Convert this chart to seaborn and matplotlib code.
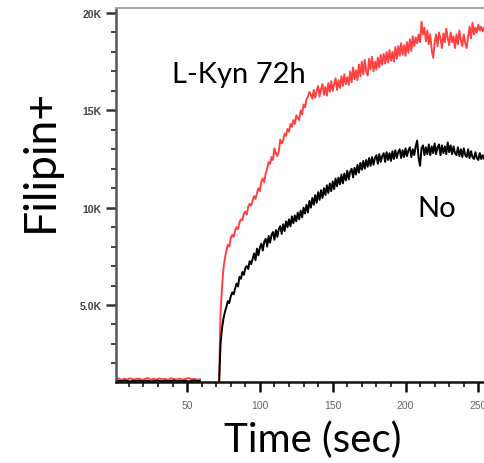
import numpy as np
import pandas as pd
import matplotlib
matplotlib.use("Agg")
import matplotlib.pyplot as plt
import seaborn as sns
from matplotlib.ticker import FixedLocator, MultipleLocator, FixedFormatter

sns.set_theme(style="ticks")
plt.rcParams["font.family"] = ["Lato", "DejaVu Sans"]

# --- data -----------------------------------------------------------------
series_names = ["L-Kyn 72h", "No"]
series_colors = ["#ff4242", "#000000"]

# baseline acquisition before the reagent is added
baseline_time = [1, 3, 5, 7, 9, 11, 13, 15, 17, 19, 21, 23, 25, 27, 29,
                 31, 33, 35, 37, 39, 41, 43, 45, 47, 49, 51, 53, 55, 57, 59]
baseline_lkyn = [1180, 1230, 1150, 1210, 1170, 1240, 1160, 1200, 1220, 1150,
                 1190, 1250, 1170, 1210, 1160, 1230, 1180, 1200, 1150, 1240,
                 1190, 1170, 1220, 1160, 1210, 1250, 1180, 1200, 1160, 1190]
baseline_no = [1090, 1110, 1080, 1120, 1100, 1070, 1110, 1090, 1120, 1080,
               1100, 1110, 1070, 1090, 1120, 1100, 1080, 1110, 1090, 1100,
               1120, 1080, 1100, 1090, 1110, 1070, 1100, 1120, 1090, 1100]

# kinetic acquisition after the reagent is added (seconds)
kinetic_time = [72, 72.5, 73, 74, 75,
                76, 77, 78, 79, 80, 81, 82, 83, 84, 85,
                86, 87, 88, 89, 90, 91, 92, 93, 94, 95,
                96, 97, 98, 99, 100, 101, 102, 103, 104, 105,
                106, 107, 108, 109, 110, 111, 112, 113, 114, 115,
                116, 117, 118, 119, 120, 121, 122, 123, 124, 125,
                126, 127, 128, 129, 130, 131, 132, 133, 134, 135,
                136, 137, 138, 139, 140, 141, 142, 143, 144, 145,
                146, 147, 148, 149, 150, 151, 152, 153, 154, 155,
                156, 157, 158, 159, 160, 161, 162, 163, 164, 165,
                166, 167, 168, 169, 170, 171, 172, 173, 174, 175,
                176, 177, 178, 179, 180, 181, 182, 183, 184, 185,
                186, 187, 188, 189, 190, 191, 192, 193, 194, 195,
                196, 197, 198, 199, 200, 201, 202, 203, 204, 205,
                206, 207, 208, 209, 210, 211, 212, 213, 214, 215,
                216, 217, 218, 219, 220, 221, 222, 223, 224, 225,
                226, 227, 228, 229, 230, 231, 232, 233, 234, 235,
                236, 237, 238, 239, 240, 241, 242, 243, 244, 245,
                246, 247, 248, 249, 250, 251, 252, 253, 254]
kinetic_lkyn = [1000, 3000, 4600, 5900, 6900,
                7400, 7800, 8100, 8000, 8450, 8600, 8500, 8850, 9000, 8900,
                9250, 9400, 9350, 9700, 9800, 9650, 10050, 10200, 10100, 10350,
                10600, 10450, 10750, 11000, 10850, 11350, 11500, 11300, 11750, 12000,
                12350, 12250, 12600, 12450, 13050, 12800, 12650, 12900, 13500, 13300,
                13450, 13800, 13700, 14050, 13900, 14300, 14150, 14500, 14300, 14750,
                14600, 14500, 15000, 14800, 15300, 15150, 15550, 15700, 15950, 15800,
                15600, 16050, 15650, 16000, 16250, 15700, 16100, 16350, 15800, 16200,
                15750, 16400, 15950, 16500, 16000, 16350, 16650, 16050, 16550, 16150,
                16750, 16250, 16850, 16350, 16700, 16300, 17000, 16450, 17200, 16600,
                17050, 16550, 17350, 16750, 17500, 16850, 17600, 17000, 16800, 17650,
                17100, 17750, 17000, 17500, 17100, 17700, 17200, 17850, 17350, 17900,
                17400, 18000, 17450, 18100, 17550, 18000, 17500, 18250, 17650, 18300,
                17800, 18450, 17850, 18350, 17800, 18500, 17950, 18650, 18050, 18800,
                18300, 18750, 18450, 18900, 18500, 19550, 18900, 19250, 18550, 19100,
                18400, 18900, 18100, 17700, 18500, 18900, 18300, 19000, 18700, 18200,
                18950, 18500, 19200, 18700, 18350, 19000, 18500, 18800, 18200, 18900,
                18400, 19100, 18600, 18300, 18900, 18450, 18200, 18800, 19300, 18700,
                19500, 18900, 19250, 19000, 19400, 19100, 19300, 19050, 19250]
kinetic_no = [1000, 2000, 3000, 3800, 4300,
              4650, 4900, 5200, 5100, 5450, 5650, 5550, 5850, 6100, 5950,
              6450, 6350, 6700, 6550, 6900, 7000, 6850, 7250, 7100, 7350,
              7650, 7300, 7900, 7550, 7950, 8150, 7800, 8250, 8400, 8000,
              8550, 8200, 8600, 8750, 8350, 8850, 8500, 8900, 9050, 8650,
              9150, 8800, 9300, 9000, 9400, 9050, 9550, 9200, 9600, 9300,
              9750, 9400, 9850, 9500, 10000, 9700, 10150, 9750, 10350, 10000,
              10500, 10150, 10650, 10250, 10800, 10400, 10900, 10500, 11000, 10650,
              11150, 10750, 11250, 10850, 11350, 10950, 11500, 11100, 11550, 11200,
              11700, 11250, 11750, 11400, 11900, 11450, 11850, 12000, 11550, 12050,
              11700, 12200, 11800, 12300, 11950, 12400, 12000, 12450, 12100, 12550,
              12150, 12600, 12200, 12550, 12700, 12250, 12750, 12350, 12650, 12800,
              12350, 12850, 12450, 12800, 12400, 12900, 12500, 12950, 12550, 12850,
              13000, 12550, 12950, 12600, 13050, 12650, 12950, 13100, 12600, 13000,
              12700, 13150, 13450, 12550, 12150, 13050, 13200, 12700, 13100, 12750,
              13250, 12700, 13150, 12800, 13300, 12750, 13100, 13250, 12700, 13200,
              12800, 13150, 12750, 13350, 12850, 13200, 12750, 13150, 12800, 12700,
              13100, 12650, 13000, 12600, 13050, 12700, 12600, 13000, 12550, 12900,
              12600, 12500, 12850, 12550, 12450, 12800, 12500, 12700, 12500]

y_ticks = [5000, 10000, 15000, 20000]
y_tick_labels = ["5.0K", "10K", "15K", "20K"]
x_ticks = [50, 100, 150, 200, 250]
x_tick_labels = ["50", "100", "150", "200", "250"]

# --- long-form table --------------------------------------------------------
frames = []
for name, base_vals, kin_vals in [("L-Kyn 72h", baseline_lkyn, kinetic_lkyn),
                                  ("No", baseline_no, kinetic_no)]:
    frames.append(pd.DataFrame({"time": baseline_time, "value": base_vals,
                                "series": name, "segment": "baseline"}))
    frames.append(pd.DataFrame({"time": kinetic_time, "value": kin_vals,
                                "series": name, "segment": "kinetic"}))
df = pd.concat(frames, ignore_index=True)

# --- figure -----------------------------------------------------------------
W, H = 484, 464
fig = plt.figure(figsize=(W / 100, H / 100), dpi=100)
fig.patch.set_facecolor("white")
ax = fig.add_axes([116 / W, 1 - 383 / H, 1 - 116 / W, (383 - 9) / H])

sns.lineplot(data=df, x="time", y="value", hue="series", units="segment",
             estimator=None, sort=False, hue_order=series_names,
             palette=dict(zip(series_names, series_colors)),
             linewidth=1.4, legend=False, ax=ax)

ax.set_xlim(1.2, 253.9)
ax.set_ylim(1045, 20257)

ax.xaxis.set_major_locator(FixedLocator(x_ticks))
ax.xaxis.set_major_formatter(FixedFormatter(x_tick_labels))
ax.xaxis.set_minor_locator(MultipleLocator(10))
ax.yaxis.set_major_locator(FixedLocator(y_ticks))
ax.yaxis.set_major_formatter(FixedFormatter(y_tick_labels))
ax.yaxis.set_minor_locator(MultipleLocator(1000))

ax.set_xlabel("")
ax.set_ylabel("")

ax.spines["right"].set_visible(False)
ax.spines["left"].set_color("#555555")
ax.spines["left"].set_linewidth(1.8)
ax.spines["bottom"].set_color("#111111")
ax.spines["bottom"].set_linewidth(1.8)
ax.spines["top"].set_visible(True)
ax.spines["top"].set_color("#aaaaaa")
ax.spines["top"].set_linewidth(1.5)

ax.tick_params(axis="y", which="major", direction="out", length=7.5, width=1.8,
               color="#333333", pad=3)
ax.tick_params(axis="y", which="minor", direction="out", length=3.5, width=1.4,
               color="#444444")
ax.tick_params(axis="x", which="major", direction="out", length=7, width=1.8,
               color="#111111", pad=6)
ax.tick_params(axis="x", which="minor", direction="out", length=3.5, width=1.4,
               color="#333333")

for lab in ax.get_yticklabels():
    lab.set_fontfamily("Liberation Sans")
    lab.set_fontweight("bold")
    lab.set_fontsize(7.5)
    lab.set_color("#444444")
for lab in ax.get_xticklabels():
    lab.set_fontfamily("Liberation Sans")
    lab.set_fontsize(7.5)
    lab.set_color("#666666")

# annotations and axis titles
fig.text(172 / W, 1 - 83 / H, "L-Kyn 72h", fontsize=21, color="black",
         ha="left", va="baseline")
fig.text(417 / W, 1 - 217 / H, "No", fontsize=21, color="black",
         ha="left", va="baseline")
fig.text(40 / W, 1 - 160 / H, "Filipin+", fontsize=32, rotation=90,
         ha="center", va="center", color="black")
fig.text(313 / W, 1 - 440 / H, "Time (sec)", fontsize=29, ha="center",
         va="center", color="black")

fig.savefig("out.png", dpi=100, facecolor="white")
